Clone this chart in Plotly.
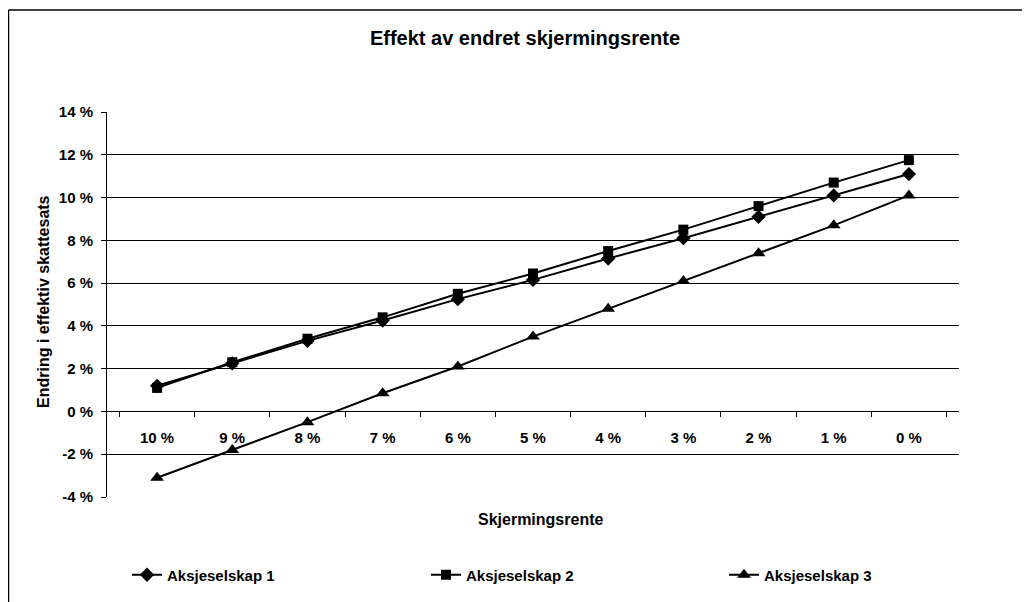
import plotly.graph_objects as go

categories = ["10 %", "9 %", "8 %", "7 %", "6 %", "5 %", "4 %", "3 %", "2 %", "1 %", "0 %"]
aksjeselskap_1 = [1.2, 2.25, 3.3, 4.25, 5.25, 6.15, 7.15, 8.1, 9.1, 10.1, 11.1]
aksjeselskap_2 = [1.1, 2.3, 3.4, 4.4, 5.5, 6.45, 7.5, 8.5, 9.6, 10.7, 11.75]
aksjeselskap_3 = [-3.1, -1.8, -0.5, 0.85, 2.1, 3.5, 4.8, 6.1, 7.4, 8.7, 10.1]
y_ticks = [-4, -2, 0, 2, 4, 6, 8, 10, 12, 14]
y_ticktext = [f"{v} %" for v in y_ticks]

FONT = "Liberation Sans, Arial, sans-serif"

# the page body has an 8px margin, so the figure is 8px smaller than the window
W, H = 1022, 594
L, T, R, B = 99, 104, 71, 105
PW, PH = W - L - R, H - T - B


def px(fx):
    return (fx - L) / PW


def py(fy):
    return (H - B - fy) / PH


fig = go.Figure()
series = [
    ("Aksjeselskap 1", aksjeselskap_1, "diamond", 11, "legend"),
    ("Aksjeselskap 2", aksjeselskap_2, "square", 10, "legend2"),
    ("Aksjeselskap 3", aksjeselskap_3, "triangle-up", 12, "legend3"),
]
for name, vals, sym, size, leg in series:
    fig.add_trace(go.Scatter(
        x=categories, y=vals, name=name, mode="lines+markers",
        line=dict(color="black", width=2),
        marker=dict(symbol=sym, size=size, color="black"),
        legend=leg,
    ))

ymin, ymax = -4, 14
zero_pos = (0 - ymin) / (ymax - ymin)


def leg(fx):
    return dict(orientation="h", xref="container", yref="container",
                x=fx / W, xanchor="left", y=1 - 567 / H, yanchor="middle",
                font=dict(size=15, family=FONT, weight="bold"),
                bgcolor="rgba(0,0,0,0)")


fig.update_layout(
    width=W, height=H,
    margin=dict(l=L, t=T, r=R, b=B, autoexpand=False),
    paper_bgcolor="white", plot_bgcolor="white",
    font=dict(family=FONT, color="black"),
    title=dict(text="<b>Effekt av endret skjermingsrente</b>", x=517 / W, xanchor="center",
               y=1 - 30 / H, yanchor="middle", font=dict(size=20, family=FONT)),
    showlegend=True,
    legend=leg(119), legend2=leg(418), legend3=leg(716),
    xaxis=dict(
        type="category", anchor="free", position=zero_pos,
        showline=True, linecolor="black", linewidth=1,
        ticks="outside", tickson="boundaries", ticklen=5, tickcolor="black",
        showgrid=False, zeroline=False,
        tickfont=dict(size=15, family=FONT, weight="bold"), ticklabelstandoff=13,
    ),
    yaxis=dict(
        range=[ymin, ymax], tickvals=y_ticks, ticktext=y_ticktext,
        showline=True, linecolor="black", linewidth=1,
        ticks="outside", ticklen=5, tickcolor="black",
        showgrid=True, gridcolor="black", gridwidth=1, zeroline=False,
        tickfont=dict(size=15, family=FONT, weight="bold"), ticklabelstandoff=5,
    ),
    annotations=[
        dict(text="<b>Skjermingsrente</b>", xref="paper", yref="paper", x=px(532), y=py(512),
             showarrow=False, font=dict(size=16, family=FONT), xanchor="center", yanchor="middle"),
        dict(text="<b>Endring i effektiv skattesats</b>", xref="paper", yref="paper", x=px(35), y=py(294),
             showarrow=False, textangle=-90, font=dict(size=16, family=FONT),
             xanchor="center", yanchor="middle"),
    ],
    shapes=[
        dict(type="line", xref="paper", yref="paper", x0=px(0.5), x1=px(W), y0=py(2), y1=py(2),
             line=dict(color="black", width=1.5)),
        dict(type="line", xref="paper", yref="paper", x0=px(0.5), x1=px(0.5), y0=py(2), y1=py(H),
             line=dict(color="black", width=1.5)),
    ],
)

fig.write_html("out.html")
